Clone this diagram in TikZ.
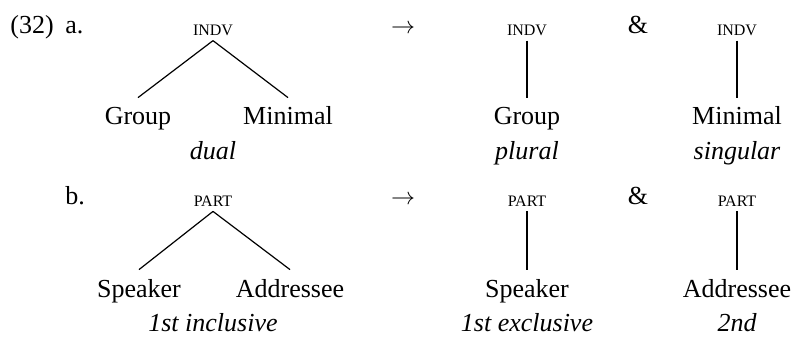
\documentclass[tikz,border=0pt]{standalone}
\usepackage{fontspec}
\setmainfont{Liberation Serif}
\usetikzlibrary{positioning}
\tikzset{cat/.style={anchor=base,font=\fontsize{8}{9}\selectfont,inner xsep=0pt,inner ysep=2.5pt},
leaf/.style={anchor=base,font=\fontsize{13}{15}\selectfont,text height=9pt,inner xsep=0pt,inner ysep=4.5pt},
gloss/.style={anchor=base,font=\fontsize{13}{15}\selectfont\itshape,inner sep=0pt},
lbl/.style={anchor=base west,font=\fontsize{13}{15}\selectfont,inner sep=0pt}}
\tikzstyle{branch} = [line width=0.6pt]

\begin{document}
\begin{tikzpicture}[x=0.5pt,y=-0.5pt]
		\useasboundingbox (0,0) rectangle (794,337);
		% (32a)
		\node[lbl] (num) at (10,33) {(32)};
		\node[lbl] (la) at (65,33) {a.};
		\node[cat] (indva) at (213,35) {INDV};
		\node[leaf] (grpa) at (138,125) {Group};
		\node[leaf] (mina) at (288,125) {Minimal};
		\node[gloss] (dual) at (213,159) {dual};
		\draw[branch] (indva.south) -- (grpa.north);
		\draw[branch] (indva.south) -- (mina.north);
		\node[lbl,anchor=base] (arra) at (403,33) {$\rightarrow$};
		\node[cat] (indvb) at (527,35) {INDV};
		\node[leaf] (grpb) at (527,125) {Group};
		\node[gloss] (plural) at (527,159) {plural};
		\draw[branch] (indvb.south) -- (grpb.north);
		\node[lbl,anchor=base] (ampa) at (638,33) {\&};
		\node[cat] (indvc) at (737,35) {INDV};
		\node[leaf] (minb) at (737,125) {Minimal};
		\node[gloss] (singular) at (737,159) {singular};
		\draw[branch] (indvc.south) -- (minb.north);
		% (32b)
		\node[lbl] (lb) at (65,204) {b.};
		\node[cat] (parta) at (213,206) {PART};
		\node[leaf] (spka) at (139,297) {Speaker};
		\node[leaf] (adra) at (290,297) {Addressee};
		\node[gloss] (incl) at (213,331) {1st inclusive};
		\draw[branch] (parta.south) -- (spka.north);
		\draw[branch] (parta.south) -- (adra.north);
		\node[lbl,anchor=base] (arrb) at (403,204) {$\rightarrow$};
		\node[cat] (partb) at (527,206) {PART};
		\node[leaf] (spkb) at (527,297) {Speaker};
		\node[gloss] (excl) at (527,331) {1st exclusive};
		\draw[branch] (partb.south) -- (spkb.north);
		\node[lbl,anchor=base] (ampb) at (638,204) {\&};
		\node[cat] (partc) at (737,206) {PART};
		\node[leaf] (adrb) at (737,297) {Addressee};
		\node[gloss] (second) at (737,331) {2nd};
		\draw[branch] (partc.south) -- (adrb.north);
	\end{tikzpicture}
\end{document}
